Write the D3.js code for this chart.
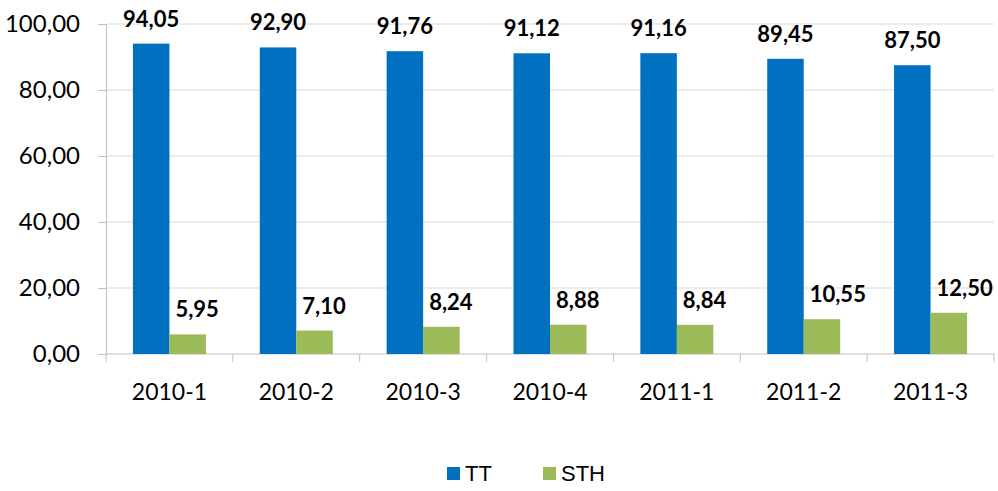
<!DOCTYPE html>
<html>
 <head>
  <meta charset="utf-8" />
  <style>
   body, html { margin: 0; padding: 0; background: #fff; overflow: hidden; }
   svg { display: block; }
   .tick text { font-family: Lato, "Open Sans", sans-serif; fill: #000; }
   .lbl { font-family: Lato, "Open Sans", sans-serif; font-weight: bold; font-size: 22px; fill: #000; }
   .legend text { font-family: "Liberation Sans", Arial, sans-serif; font-size: 22px; fill: #000; }
  </style>
  <script src="https://cdnjs.cloudflare.com/ajax/libs/d3/7.9.0/d3.min.js"></script>
 </head>
 <body>
  <svg></svg>
  <script>
   const periods = ["2010-1", "2010-2", "2010-3", "2010-4", "2011-1", "2011-2", "2011-3"];
   const ttValues = [94.05, 92.90, 91.76, 91.12, 91.16, 89.45, 87.50];
   const sthValues = [5.95, 7.10, 8.24, 8.88, 8.84, 10.55, 12.50];
   const seriesNames = ["TT", "STH"];
   const yTicks = [0, 20, 40, 60, 80, 100];

   const width = 998, height = 491;
   const margin = {top: 24, right: 4, bottom: 137, left: 106};
   const colors = {TT: "#0070c0", STH: "#9bbb59"};
   const fmt = v => v.toFixed(2).replace(".", ",");

   const svg = d3.select("svg").attr("width", width).attr("height", height);

   const x = d3.scaleBand().domain(periods).range([margin.left, width - margin.right]);
   const y = d3.scaleLinear().domain([0, 100]).range([height - margin.bottom, margin.top]);
   const barW = 36.5;
   const inner = x.bandwidth() / 2 - barW;

   // grid
   svg.append("g").selectAll("line")
    .data(yTicks.filter(t => t > 0))
    .enter().append("line")
    .attr("x1", margin.left).attr("x2", width - margin.right)
    .attr("y1", d => y(d)).attr("y2", d => y(d))
    .attr("stroke", "#d9d9d9").attr("stroke-width", 1);

   // y axis
   const yAxis = svg.append("g")
    .attr("transform", `translate(${margin.left},0)`)
    .call(d3.axisLeft(y).tickValues(yTicks).tickFormat(fmt).tickSize(8).tickPadding(18));
   yAxis.selectAll("text").style("font-size", "24px");
   yAxis.selectAll("line, path").attr("stroke", "#bfbfbf");

   // x axis with boundary ticks
   const xAxisG = svg.append("g").attr("transform", `translate(0,${y(0)})`);
   xAxisG.append("line")
    .attr("x1", margin.left).attr("x2", width - margin.right)
    .attr("stroke", "#bfbfbf");
   xAxisG.selectAll("line.bound")
    .data(periods.concat([null]))
    .enter().append("line")
    .attr("class", "bound")
    .attr("x1", (d, i) => margin.left + i * x.step()).attr("x2", (d, i) => margin.left + i * x.step())
    .attr("y1", 0).attr("y2", 8)
    .attr("stroke", "#bfbfbf");
   xAxisG.selectAll("text")
    .data(periods)
    .enter().append("text")
    .attr("x", d => x(d) + x.bandwidth() / 2)
    .attr("y", 46)
    .attr("text-anchor", "middle")
    .style("font-family", "Lato, 'Open Sans', sans-serif")
    .style("font-size", "23px")
    .text(d => d);

   // bars
   const bars = svg.append("g");
   bars.selectAll("rect.tt")
    .data(ttValues)
    .enter().append("rect")
    .attr("x", (d, i) => x(periods[i]) + inner)
    .attr("width", barW)
    .attr("y", d => y(d))
    .attr("height", d => y(0) - y(d))
    .attr("fill", colors.TT);
   bars.selectAll("rect.sth")
    .data(sthValues)
    .enter().append("rect")
    .attr("x", (d, i) => x(periods[i]) + inner + barW)
    .attr("width", barW)
    .attr("y", d => y(d))
    .attr("height", d => y(0) - y(d))
    .attr("fill", colors.STH);

   // labels
   bars.selectAll("text.tt")
    .data(ttValues)
    .enter().append("text")
    .attr("class", "lbl")
    .attr("x", (d, i) => x(periods[i]) + inner + barW / 2)
    .attr("y", d => y(d) - 17)
    .attr("text-anchor", "middle")
    .text(fmt);
   bars.selectAll("text.sth")
    .data(sthValues)
    .enter().append("text")
    .attr("class", "lbl")
    .attr("x", (d, i) => x(periods[i]) + inner + barW + 6)
    .attr("y", d => y(d) - 17)
    .attr("text-anchor", "start")
    .text(fmt);

   // legend
   const legend = svg.append("g").attr("class", "legend");
   const legX = [447, 543];
   seriesNames.forEach((name, i) => {
    legend.append("rect")
     .attr("x", legX[i]).attr("y", 467)
     .attr("width", 13).attr("height", 13)
     .attr("fill", colors[name]);
    legend.append("text")
     .attr("x", legX[i] + 18).attr("y", 481)
     .text(name);
   });
  </script>
 </body>
</html>
